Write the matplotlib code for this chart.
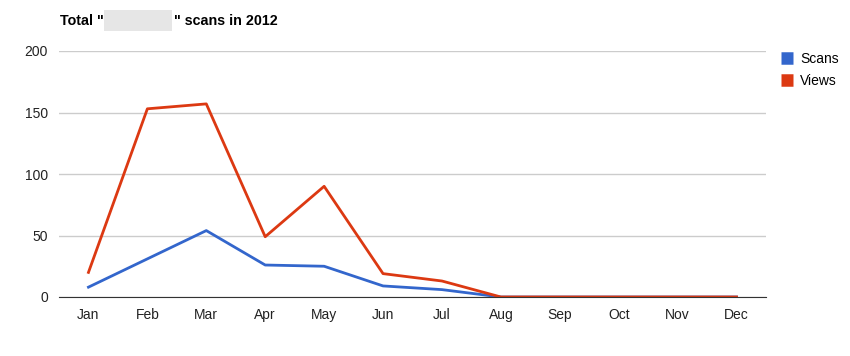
import matplotlib.pyplot as plt
from matplotlib.patches import Rectangle

plt.rcParams['font.family'] = ['Liberation Sans', 'DejaVu Sans']

months = ['Jan', 'Feb', 'Mar', 'Apr', 'May', 'Jun', 'Jul', 'Aug', 'Sep', 'Oct', 'Nov', 'Dec']
scans = [8, 31, 54, 26, 25, 9, 6, 0, 0, 0, 0, 0]
views = [20, 153, 157, 49, 90, 19, 13, 0, 0, 0, 0, 0]
yticks = [0, 50, 100, 150, 200]

fig = plt.figure(figsize=(8.5, 3.56), dpi=100)
ax = fig.add_axes([59/850, 1-297/356, 707/850, 246/356])

x = list(range(len(months)))
ax.plot(x, scans, color='#3366cc', lw=2, label='Scans', zorder=3)
ax.plot(x, views, color='#dc3912', lw=2, label='Views', zorder=3)

ax.set_xlim(-0.5, 11.5)
ax.set_ylim(0, 200)
ax.set_yticks(yticks)
ax.set_xticks(x)
ax.set_xticklabels(months)
ax.grid(axis='y', color='#cccccc', lw=1)
ax.set_axisbelow(True)
for s in ['top', 'right', 'left']:
    ax.spines[s].set_visible(False)
ax.spines['bottom'].set_color('#333333')
ax.spines['bottom'].set_zorder(4)
ax.tick_params(length=0, labelsize=10, colors='#222222')
ax.tick_params(axis='x', pad=8)
ax.tick_params(axis='y', pad=8)

leg = ax.legend(loc='upper left', bbox_to_anchor=(1.003, 1.045), frameon=False,
                handlelength=0.9, handleheight=0.9, handletextpad=0.5, fontsize=10,
                labelspacing=0.55)
for h in leg.legend_handles:
    h.set_linewidth(9)
    h.set_solid_capstyle('butt')

# title with the blurred name
fig.text(60/850, 1-21/356, 'Total "', fontsize=10.3, fontweight='bold', va='center')
fig.patches.append(Rectangle((104/850, 1-31/356), 68/850, 21/356, transform=fig.transFigure,
                             facecolor='#e6e6e6', edgecolor='none'))
fig.text(174/850, 1-21/356, '" scans in 2012', fontsize=10.3, fontweight='bold', va='center')

fig.savefig('out.png', dpi=100)
